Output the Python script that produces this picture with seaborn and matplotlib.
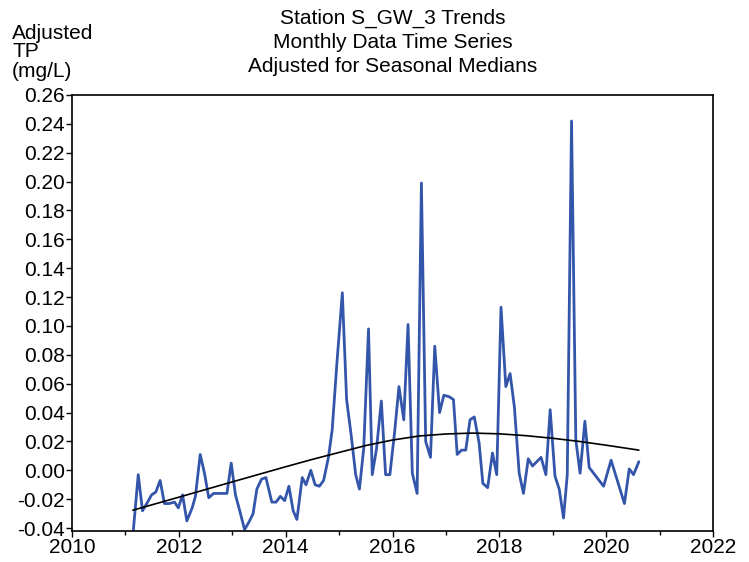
import numpy as np
import pandas as pd
import seaborn as sns
import matplotlib.pyplot as plt
from matplotlib.ticker import MultipleLocator, FormatStrFormatter

# ==============================================================================
# DATA
# ==============================================================================
obs_year = [2011.15, 2011.24, 2011.32, 2011.40, 2011.49, 2011.57, 2011.65, 2011.73, 2011.82, 2011.92,
            2011.99, 2012.07, 2012.15, 2012.25, 2012.31, 2012.40, 2012.48, 2012.56, 2012.65, 2012.73,
            2012.82, 2012.90, 2012.98, 2013.06, 2013.14, 2013.23, 2013.31, 2013.39, 2013.46, 2013.55,
            2013.63, 2013.74, 2013.82, 2013.90, 2013.98, 2014.06, 2014.14, 2014.21, 2014.31, 2014.38,
            2014.47, 2014.55, 2014.63, 2014.71, 2014.80, 2014.87, 2014.96, 2015.06, 2015.14, 2015.23,
            2015.31, 2015.38, 2015.46, 2015.55, 2015.62, 2015.70, 2015.79, 2015.87, 2015.95, 2016.04,
            2016.12, 2016.21, 2016.29, 2016.37, 2016.46, 2016.54, 2016.62, 2016.71, 2016.79, 2016.88,
            2016.96, 2017.06, 2017.14, 2017.21, 2017.29, 2017.37, 2017.45, 2017.53, 2017.62, 2017.69,
            2017.78, 2017.87, 2017.95, 2018.03, 2018.12, 2018.20, 2018.28, 2018.37, 2018.45, 2018.54,
            2018.62, 2018.70, 2018.78, 2018.87, 2018.95, 2019.04, 2019.12, 2019.20, 2019.27, 2019.35,
            2019.43, 2019.51, 2019.60, 2019.68, 2019.95, 2020.09, 2020.34, 2020.43, 2020.51, 2020.61]
obs_tp = [-0.041, -0.003, -0.028, -0.023, -0.017, -0.015, -0.007, -0.023, -0.023, -0.022,
          -0.026, -0.017, -0.035, -0.026, -0.018, 0.011, -0.002, -0.019, -0.016, -0.016,
          -0.016, -0.016, 0.005, -0.017, -0.028, -0.041, -0.036, -0.030, -0.013, -0.006,
          -0.005, -0.022, -0.022, -0.018, -0.021, -0.011, -0.028, -0.034, -0.005, -0.010,
          0.000, -0.010, -0.011, -0.007, 0.009, 0.028, 0.075, 0.123, 0.049, 0.023,
          -0.003, -0.013, 0.015, 0.098, -0.003, 0.015, 0.048, -0.003, -0.003, 0.027,
          0.058, 0.035, 0.101, -0.002, -0.016, 0.199, 0.020, 0.009, 0.086, 0.040,
          0.052, 0.051, 0.049, 0.011, 0.014, 0.014, 0.035, 0.037, 0.019, -0.009,
          -0.012, 0.012, -0.003, 0.113, 0.058, 0.067, 0.044, -0.002, -0.016, 0.008,
          0.003, 0.006, 0.009, -0.003, 0.042, -0.004, -0.013, -0.033, -0.003, 0.242,
          0.021, -0.002, 0.034, 0.002, -0.011, 0.007, -0.023, 0.001, -0.003, 0.006]

# courbe de tendance lissée
trend_year = [2011.14, 2012.0, 2013.0, 2014.0, 2014.5, 2015.0, 2015.5, 2016.0, 2016.5,
              2017.0, 2017.5, 2018.0, 2018.5, 2019.0, 2019.5, 2020.0, 2020.61]
trend_tp = [-0.0276, -0.0186, -0.0080, 0.0025, 0.0076, 0.0124, 0.0172, 0.0210, 0.0238,
            0.0252, 0.0258, 0.0253, 0.0240, 0.0222, 0.0200, 0.0174, 0.0140]

title_lines = ["Station S_GW_3 Trends", "Monthly Data Time Series", "Adjusted for Seasonal Medians"]
ylabel_lines = ["Adjusted", "TP", "(mg/L)"]

obs = pd.DataFrame({'year': obs_year, 'tp': obs_tp})
trend = pd.DataFrame({'year': trend_year, 'tp': trend_tp})

# ==============================================================================
# PLOT
# ==============================================================================
sns.set_style("ticks")
plt.rcParams['font.family'] = ['Liberation Sans', 'DejaVu Sans']
plt.rcParams['text.color'] = 'black'

fig = plt.figure(figsize=(7.49, 5.62), dpi=100)
ax = fig.add_axes([0.0961, 0.0552, 0.856, 0.7758])

sns.lineplot(data=obs, x='year', y='tp', ax=ax, color='#3355aa', linewidth=2.0,
             sort=False, estimator=None)
sns.lineplot(data=trend, x='year', y='tp', ax=ax, color='black', linewidth=1.2,
             sort=False, estimator=None)

ax.set_xlim(2010, 2022)
ax.set_ylim(-0.042, 0.26)
ax.xaxis.set_major_locator(MultipleLocator(2))
ax.xaxis.set_minor_locator(MultipleLocator(1))
ax.yaxis.set_major_locator(MultipleLocator(0.02))
ax.yaxis.set_major_formatter(FormatStrFormatter('%.2f'))
ax.tick_params(axis='both', which='major', labelsize=15, length=4, width=1, pad=1,
               colors='black', labelcolor='black')
ax.tick_params(axis='x', which='minor', length=3, width=1, colors='black')
ax.set_xlabel('')
ax.set_ylabel('')
for s in ax.spines.values():
    s.set_visible(True)
    s.set_linewidth(1.2)
    s.set_color('black')

# titre sur trois lignes
for txt, yb in zip(title_lines, [24, 48, 72]):
    fig.text(393 / 749, 1 - yb / 562, txt, ha='center', va='baseline', fontsize=15, color='black')
for txt, yb in zip(ylabel_lines, [39, 57, 77]):
    fig.text(12 / 749, 1 - yb / 562, txt, ha='left', va='baseline', fontsize=15, color='black')

plt.savefig('out.png', dpi=100)
